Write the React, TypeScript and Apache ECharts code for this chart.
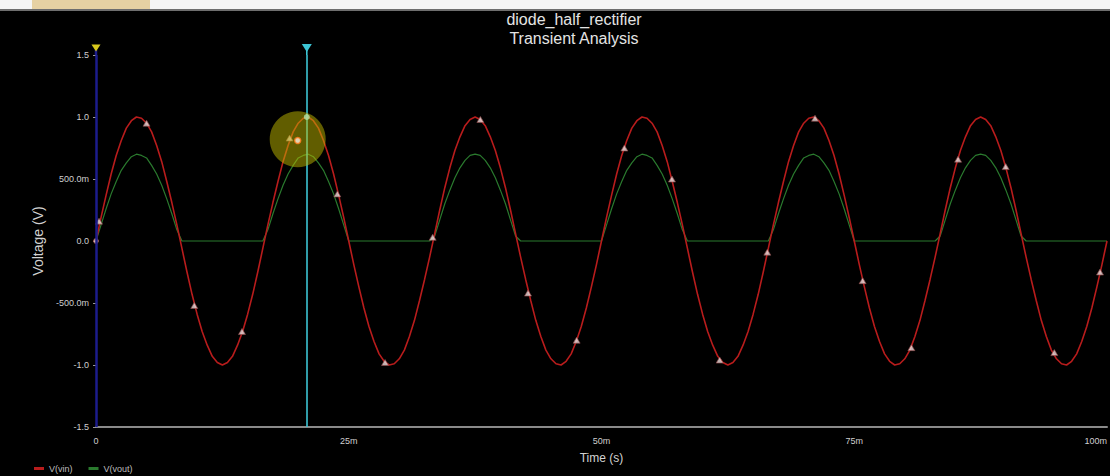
import React, { useEffect, useRef } from "react";
import * as echarts from "echarts";

// Sampling step of the simulated traces (ms)
const SAMPLE_STEP_MS = 0.5;

// V(vin), 0 .. 100 ms every 0.5 ms
const vin = [
  0, 0.19, 0.37, 0.54, 0.69, 0.81, 0.91, 0.97, 1.0, 0.99,
  0.95, 0.88, 0.77, 0.64, 0.48, 0.31, 0.13, -0.06, -0.25, -0.43,
  -0.59, -0.73, -0.84, -0.93, -0.98, -1.0, -0.98, -0.93, -0.84, -0.73,
  -0.59, -0.43, -0.25, -0.06, 0.13, 0.31, 0.48, 0.64, 0.77, 0.88,
  0.95, 0.99, 1.0, 0.97, 0.91, 0.81, 0.69, 0.54, 0.37, 0.19,
  0, -0.19, -0.37, -0.54, -0.69, -0.81, -0.91, -0.97, -1.0, -0.99,
  -0.95, -0.88, -0.77, -0.64, -0.48, -0.31, -0.13, 0.06, 0.25, 0.43,
  0.59, 0.73, 0.84, 0.93, 0.98, 1.0, 0.98, 0.93, 0.84, 0.73,
  0.59, 0.43, 0.25, 0.06, -0.13, -0.31, -0.48, -0.64, -0.77, -0.88,
  -0.95, -0.99, -1.0, -0.97, -0.91, -0.81, -0.69, -0.54, -0.37, -0.19,
  0,
  0.19, 0.37, 0.54, 0.69, 0.81, 0.91, 0.97, 1.0, 0.99, 0.95,
  0.88, 0.77, 0.64, 0.48, 0.31, 0.13, -0.06, -0.25, -0.43, -0.59,
  -0.73, -0.84, -0.93, -0.98, -1.0, -0.98, -0.93, -0.84, -0.73, -0.59,
  -0.43, -0.25, -0.06, 0.13, 0.31, 0.48, 0.64, 0.77, 0.88, 0.95,
  0.99, 1.0, 0.97, 0.91, 0.81, 0.69, 0.54, 0.37, 0.19, 0,
  -0.19, -0.37, -0.54, -0.69, -0.81, -0.91, -0.97, -1.0, -0.99, -0.95,
  -0.88, -0.77, -0.64, -0.48, -0.31, -0.13, 0.06, 0.25, 0.43, 0.59,
  0.73, 0.84, 0.93, 0.98, 1.0, 0.98, 0.93, 0.84, 0.73, 0.59,
  0.43, 0.25, 0.06, -0.13, -0.31, -0.48, -0.64, -0.77, -0.88, -0.95,
  -0.99, -1.0, -0.97, -0.91, -0.81, -0.69, -0.54, -0.37, -0.19, 0,
];

// V(vout), 0 .. 100 ms every 0.5 ms
const vout = [
  0, 0.13, 0.26, 0.38, 0.48, 0.57, 0.63, 0.68, 0.7, 0.69,
  0.67, 0.61, 0.54, 0.45, 0.34, 0.22, 0.09, 0, 0, 0,
  0, 0, 0, 0, 0, 0, 0, 0, 0, 0,
  0, 0, 0, 0, 0.09, 0.22, 0.34, 0.45, 0.54, 0.61,
  0.67, 0.69, 0.7, 0.68, 0.63, 0.57, 0.48, 0.38, 0.26, 0.13,
  0, 0, 0, 0, 0, 0, 0, 0, 0, 0,
  0, 0, 0, 0, 0, 0, 0, 0.04, 0.17, 0.3,
  0.41, 0.51, 0.59, 0.65, 0.69, 0.7, 0.69, 0.65, 0.59, 0.51,
  0.41, 0.3, 0.17, 0.04, 0, 0, 0, 0, 0, 0,
  0, 0, 0, 0, 0, 0, 0, 0, 0, 0,
  0,
  0.13, 0.26, 0.38, 0.48, 0.57, 0.63, 0.68, 0.7, 0.69, 0.67,
  0.61, 0.54, 0.45, 0.34, 0.22, 0.09, 0, 0, 0, 0,
  0, 0, 0, 0, 0, 0, 0, 0, 0, 0,
  0, 0, 0, 0.09, 0.22, 0.34, 0.45, 0.54, 0.61, 0.67,
  0.69, 0.7, 0.68, 0.63, 0.57, 0.48, 0.38, 0.26, 0.13, 0,
  0, 0, 0, 0, 0, 0, 0, 0, 0, 0,
  0, 0, 0, 0, 0, 0, 0.04, 0.17, 0.3, 0.41,
  0.51, 0.59, 0.65, 0.69, 0.7, 0.69, 0.65, 0.59, 0.51, 0.41,
  0.3, 0.17, 0.04, 0, 0, 0, 0, 0, 0, 0,
  0, 0, 0, 0, 0, 0, 0, 0, 0, 0,
];

// Triangle data markers drawn on V(vin)
const markerTimes = [0.3, 5.0, 9.72, 14.44, 19.15, 23.87, 28.59, 33.3, 38.02, 42.73, 47.54, 52.26, 56.97, 61.69, 66.4, 71.12, 75.83, 80.65, 85.27, 89.98, 94.79, 99.31];
const markerValues = [0.16, 0.95, -0.52, -0.73, 0.83, 0.38, -0.98, 0.03, 0.98, -0.42, -0.8, 0.75, 0.5, -0.96, -0.09, 0.99, -0.32, -0.86, 0.66, 0.6, -0.9, -0.25];

// Cursors and the highlighted point
const cursor1Time = 0;
const cursor2Time = 20.85;
const cursor2Value = 1.0;
const selectedTime = 19.95;
const selectedValue = 0.81;
const highlightValue = 0.82;

// Axis ticks and labels
const xTicks = [0, 25, 50, 75, 100];
const xTickLabels = ["0", "25m", "50m", "75m", "100m"];
const yTicks = [-1.5, -1, -0.5, 0, 0.5, 1, 1.5];
const yTickLabels = ["-1.5", "-1.0", "-500.0m", "0.0", "500.0m", "1.0", "1.5"];

const seriesNames = ["V(vin)", "V(vout)"];
const titleLines = ["diode_half_rectifier", "Transient Analysis"];

const FONT = "'Liberation Sans', Arial, sans-serif";
const RED = "#b81c1c";
const GREEN = "#2a7a2e";

export default function App() {
  const ref = useRef<HTMLDivElement>(null);

  useEffect(() => {
    if (!ref.current) return;
    const chart = echarts.init(ref.current, null, { renderer: "svg" });

    const vinData = vin.map((v, i) => [i * SAMPLE_STEP_MS, v]);
    const voutData = vout.map((v, i) => [i * SAMPLE_STEP_MS, v]);
    const markerData = markerTimes.map((t, i) => [t, markerValues[i]]);

    const labelFor = (ticks: number[], labels: string[], v: number) => {
      const idx = ticks.findIndex((t) => Math.abs(t - v) < 1e-9);
      return idx >= 0 ? labels[idx] : "";
    };

    chart.setOption({
      animation: false,
      backgroundColor: "#000000",
      textStyle: { fontFamily: FONT },
      graphic: [
        { type: "rect", left: 0, top: 0, shape: { width: 1110, height: 10 }, style: { fill: "#f5f5f5" }, z: 100 },
        { type: "rect", left: 32, top: 0, shape: { width: 118, height: 10 }, style: { fill: "#e6d1a3" }, z: 101 },
        { type: "line", shape: { x1: 0, y1: 10, x2: 1110, y2: 10 }, style: { stroke: "#6e6e6e", lineWidth: 2 }, z: 102 },
        {
          type: "text", x: 574, y: 11, z: 100,
          style: { text: titleLines[0], fill: "#e4e4e4", font: `16px ${FONT}`, align: "center", verticalAlign: "top" },
        },
        {
          type: "text", x: 574, y: 30, z: 100,
          style: { text: titleLines[1], fill: "#e4e4e4", font: `16px ${FONT}`, align: "center", verticalAlign: "top" },
        },
      ],
      legend: {
        left: 34,
        top: 464,
        itemWidth: 10,
        itemHeight: 3,
        itemGap: 16,
        icon: "rect",
        padding: 0,
        textStyle: { color: "#bdbdbd", fontSize: 9, fontFamily: FONT },
        data: seriesNames,
      },
      grid: { left: 96, right: -4, top: 55, bottom: 49, containLabel: false },
      xAxis: {
        type: "value",
        min: 0,
        max: 100,
        interval: 25,
        name: "Time (s)",
        nameLocation: "middle",
        nameGap: 25,
        nameTextStyle: { color: "#d2d2d2", fontSize: 12, fontFamily: FONT },
        axisLine: { show: true, onZero: false, lineStyle: { color: "#8a8a8a", width: 2 } },
        axisTick: { show: false },
        splitLine: { show: false },
        axisLabel: {
          color: "#cfcfcf",
          fontSize: 9,
          margin: 9,
          alignMaxLabel: "right",
          formatter: (v: number) => labelFor(xTicks, xTickLabels, v),
        },
      },
      yAxis: {
        type: "value",
        min: -1.5,
        max: 1.5,
        interval: 0.5,
        name: "Voltage (V)",
        nameLocation: "middle",
        nameGap: 50,
        nameTextStyle: { color: "#d2d2d2", fontSize: 14, fontFamily: FONT },
        axisLine: { show: false },
        axisTick: { show: true, length: 3, lineStyle: { color: "#9a9a9a" } },
        splitLine: { show: false },
        axisLabel: {
          color: "#cfcfcf",
          fontSize: 9,
          margin: 7,
          formatter: (v: number) => labelFor(yTicks, yTickLabels, v),
        },
      },
      series: [
        {
          name: seriesNames[1],
          type: "line",
          data: voutData,
          showSymbol: false,
          lineStyle: { color: GREEN, width: 1.2 },
          itemStyle: { color: GREEN },
          z: 2,
          silent: true,
        },
        {
          name: seriesNames[0],
          type: "line",
          data: vinData,
          showSymbol: false,
          lineStyle: { color: RED, width: 1.6 },
          itemStyle: { color: RED },
          z: 3,
          silent: true,
        },
        {
          name: "markers",
          type: "scatter",
          data: markerData,
          symbol: "triangle",
          symbolSize: [7, 6],
          itemStyle: { color: "#efdede", borderColor: "#8c4646", borderWidth: 0.8 },
          z: 4,
          silent: true,
        },
        {
          name: "origin",
          type: "scatter",
          data: [[cursor1Time, 0]],
          symbol: "circle",
          symbolSize: 5,
          itemStyle: { color: "#e8d0d0", borderColor: "#a05050", borderWidth: 1 },
          z: 4,
          silent: true,
        },
        {
          name: "highlight",
          type: "scatter",
          data: [[selectedTime, highlightValue]],
          symbol: "circle",
          symbolSize: 56,
          itemStyle: { color: "rgba(196,188,0,0.62)" },
          z: 6,
          silent: true,
        },
        {
          name: "cursors",
          type: "line",
          data: [],
          z: 7,
          silent: true,
          markLine: {
            silent: true,
            symbol: "none",
            label: { show: false },
            animation: false,
            data: [
              { xAxis: cursor1Time, lineStyle: { color: "#1c1c8c", width: 2.5, type: "solid" } },
              { xAxis: cursor2Time, lineStyle: { color: "#3cc4d4", width: 1.6, type: "solid" } },
            ],
          },
          markPoint: {
            silent: true,
            animation: false,
            label: { show: false },
            data: [
              { coord: [cursor1Time, 1.5], symbol: "rect", symbolSize: [2.5, 5], symbolOffset: [0, -2.5], itemStyle: { color: "#1c1c8c" } },
              { coord: [cursor2Time, 1.5], symbol: "rect", symbolSize: [1.6, 5], symbolOffset: [0, -2.5], itemStyle: { color: "#3cc4d4" } },
              { coord: [cursor1Time, 1.5], symbol: "triangle", symbolRotate: 180, symbolSize: [9, 7], symbolOffset: [0, -7], itemStyle: { color: "#d8c81c" } },
              { coord: [cursor2Time, 1.5], symbol: "triangle", symbolRotate: 180, symbolSize: [10, 8], symbolOffset: [0, -7], itemStyle: { color: "#3cc4d4" } },
            ],
          },
        },
        {
          name: "cursorHit",
          type: "scatter",
          data: [[cursor2Time, cursor2Value]],
          symbol: "circle",
          symbolSize: 6,
          itemStyle: { color: "#b4e4aa" },
          z: 8,
          silent: true,
        },
        {
          name: "selected",
          type: "scatter",
          data: [[selectedTime, selectedValue]],
          symbol: "circle",
          symbolSize: 6,
          itemStyle: { color: "#fff2e2", borderColor: "#ff7a1a", borderWidth: 1.5 },
          z: 8,
          silent: true,
        },
      ],
    });

    return () => chart.dispose();
  }, []);

  return (
    <div
      ref={ref}
      style={{ position: "fixed", left: 0, top: 0, width: 1110, height: 476, background: "#000" }}
    />
  );
}
